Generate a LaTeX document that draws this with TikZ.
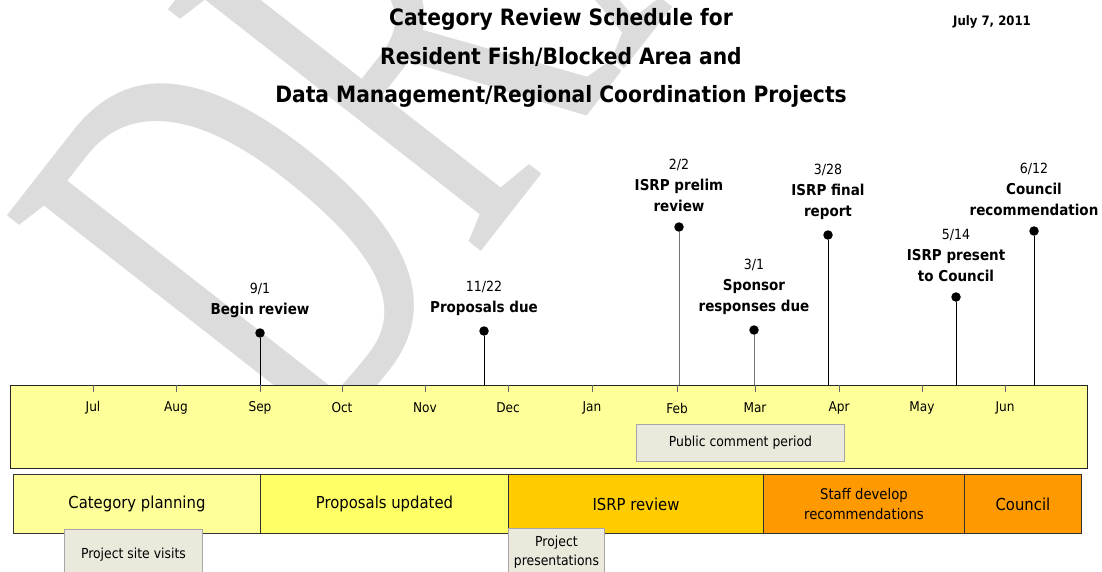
\documentclass[tikz,border=0pt]{standalone}
\usepackage{fontspec}
\setmainfont{DejaVu Sans}[FakeStretch=0.9]
\newfontfamily\wmfont{Liberation Serif}
\usepackage{tikz}
\usetikzlibrary{positioning}
\definecolor{barfill}{HTML}{FFFF99}
\definecolor{propfill}{HTML}{FFFF66}
\definecolor{isrpfill}{HTML}{FFCC00}
\definecolor{stafffill}{HTML}{FF9900}
\definecolor{notefill}{HTML}{EBE9DC}
\definecolor{noteline}{HTML}{A6A6A6}
\definecolor{wmgray}{HTML}{DCDCDC}
\newcommand{\dfont}{\fontsize{14}{21}\selectfont\mdseries}

\begin{document}
\begin{tikzpicture}[x=1pt, y=-1pt,
    phase/.style={draw=black!80, line width=.9pt, minimum height=59pt, inner sep=0pt, anchor=north west, align=center, font=\fontsize{16.5}{20}\selectfont},
    note/.style={draw=noteline, fill=notefill, line width=.9pt, inner sep=0pt, anchor=north west, align=center, font=\fontsize{13.8}{19}\selectfont},
    dot/.style={circle, fill=black, inner sep=0pt, minimum size=9.5pt},
    mlab/.style={align=center, inner sep=0pt, font=\fontsize{15}{21}\selectfont\bfseries}]
	    \useasboundingbox (0,0) rectangle (1102,571);
	    \begin{scope}
	      \clip (0,0) rectangle (1102,571);
	      \node[text=wmgray, rotate=52, anchor=base west, inner sep=0pt, font=\wmfont\fontsize{604}{604}\selectfont] (wm) at (312,468) {\scalebox{0.6}[1]{DRAFT}};
	    \end{scope}
	    \node[font=\fontsize{22.5}{38.5}\selectfont\bfseries, align=center] (title) at (561,58) {Category Review Schedule for\\Resident Fish/Blocked Area and\\Data Management/Regional Coordination Projects};
	    \node[font=\fontsize{13}{15}\selectfont\bfseries] (date) at (992,22) {July 7, 2011};
	    \node[draw=black!85, line width=.9pt, fill=barfill, minimum width=1077pt, minimum height=83pt, inner sep=0pt, anchor=north west] (bar) at (10,385) {};
	    \foreach \m/\x in {Jul/93, Aug/176, Sep/260, Oct/342, Nov/425, Dec/508, Jan/592, Feb/677, Mar/755, Apr/839, May/922, Jun/1005} {
	      \draw[black!60] (\x,385) -- (\x,392);
	      \node[font=\fontsize{13.5}{15}\selectfont] at (\x,408) {\m};
	    }
	    \node[note, minimum width=208pt, minimum height=37pt] (pub) at (636,424) {Public comment period};
	    \node[phase, fill=barfill, minimum width=247pt] (plan) at (13,474) {Category planning};
	    \node[phase, fill=propfill, minimum width=248pt] (prop) at (260,474) {Proposals updated};
	    \node[phase, fill=isrpfill, minimum width=255pt] (isrp) at (508,474) {ISRP review};
	    \node[phase, fill=stafffill, minimum width=201pt, font=\fontsize{14.7}{20}\selectfont] (staff) at (763,474) {Staff develop\\recommendations};
	    \node[phase, fill=stafffill, minimum width=117pt] (coun) at (964,474) {Council};
	    \node[note, minimum width=138pt, minimum height=50pt] (visit) at (64,529) {Project site visits};
	    \node[note, minimum width=96pt, minimum height=48pt] (pres) at (508,528) {Project\\presentations};
	    \node[dot] at (260,333) (begin) {};
	    \node[mlab, above=10pt of begin] {{\dfont 9/1}\\Begin review};
	    \draw (begin) -- (begin |- bar.north);
	    \node[dot] at (484,331) (due) {};
	    \node[mlab, above=10pt of due] {{\dfont 11/22}\\Proposals due};
	    \draw (due) -- (due |- bar.north);
	    \node[dot] at (679,227) (prelim) {};
	    \node[mlab, above=10pt of prelim] {{\dfont 2/2}\\ISRP prelim\\review};
	    \draw[black!55] (prelim) -- (prelim |- bar.north);
	    \node[dot] at (754,330) (resp) {};
	    \node[mlab, above=10pt of resp] {{\dfont 3/1}\\Sponsor\\responses due};
	    \draw[black!55] (resp) -- (resp |- bar.north);
	    \node[dot] at (828,235) (final) {};
	    \node[mlab, above=10pt of final] {{\dfont 3/28}\\ISRP final\\report};
	    \draw (final) -- (final |- bar.north);
	    \node[dot] at (956,297) (present) {};
	    \node[mlab, above=10pt of present] {{\dfont 5/14}\\ISRP present\\to Council};
	    \draw (present) -- (present |- bar.north);
	    \node[dot] at (1034,231) (recom) {};
	    \node[mlab, above=10pt of recom] {{\dfont 6/12}\\Council\\recommendation};
	    \draw (recom) -- (recom |- bar.north);
	    \end{tikzpicture}
\end{document}
